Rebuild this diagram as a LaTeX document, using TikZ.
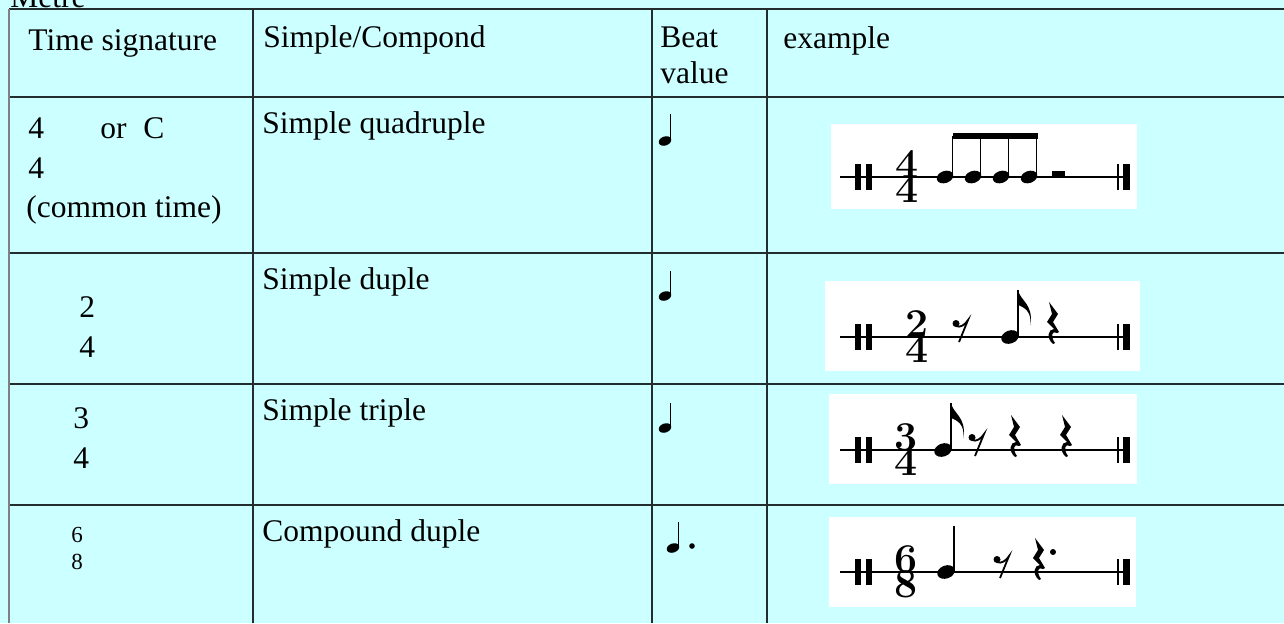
\documentclass[tikz,border=0pt]{standalone}
\usepackage{fontspec}
\setmainfont{Liberation Serif}
\newfontfamily\sigfont{Latin Modern Roman}
\usetikzlibrary{positioning}
\definecolor{colorbg}  {RGB}{204,255,255}
\definecolor{colorrule}{RGB}{35 ,45 ,45 }
\definecolor{colortext}{RGB}{0  ,0  ,0  }

% staff line with the two double bars, #1 = y of the line
\newcommand{\musstaff}[1]{%
  \draw[staff] (840,#1) -- (1130,#1);
  \fill (855,#1-13) rectangle (861,#1+13);
  \fill (866,#1-13) rectangle (872,#1+13);
  \fill (1117.2,#1-13) rectangle (1119.2,#1+13);
  \fill (1123,#1-13) rectangle (1130,#1+13);}
\newcommand{\mushead}[4]{%
  \fill[rotate around={20:(#1,#2)}] (#1,#2) ellipse (#3 and #4);}
\newcommand{\musnote}[5]{%
  \mushead{#1}{#2}{#3}{#4}
  \draw[stemline] (#1+#3-0.8,#2-1) -- (#1+#3-0.8,#5);}
\newcommand{\musflag}[2]{%
  \fill (#1,#2) .. controls (#1+1,#2+10) and (#1+16,#2+14) .. (#1+12,#2+35)
    .. controls (#1+14,#2+21) and (#1+5,#2+17) .. (#1,#2+15) -- cycle;}
\newcommand{\musqrest}[2]{%
  \fill[shift={(#1,#2)}] (2,0) -- (11,12) -- (6,20) -- (12,30) -- (10,31)
    .. controls (5,28) and (3,34) .. (8,41) -- (6,42)
    .. controls (-1,36) and (1,27) .. (7,27) -- (0,20) -- (5,12) -- cycle;}
\newcommand{\muserest}[2]{%
  \begin{scope}[shift={(#1,#2)}]
    \fill (4,3.5) circle (3.5);
    \draw[line width=0.9pt] (4,6) .. controls (8,8) and (13,5) .. (16,0) -- (7,22);
  \end{scope}}

\begin{document}
\begin{tikzpicture}[
    x=0.5pt, y=-0.5pt,
    font=\fontsize{15.75}{18}\selectfont,
    txt/.style={text=colortext,inner sep=0pt,anchor=base west},
    small/.style={txt,font=\fontsize{11.5}{13}\selectfont},
    sig/.style={inner sep=0pt,anchor=base,font=\sigfont\bfseries\fontsize{20.5}{21}\selectfont},
    rule/.style={draw=colorrule,line width=0.9pt},
    staff/.style={line width=0.7pt},
    stemline/.style={line width=0.75pt},
]

    % Background
    \fill[colorbg] (0,0) rectangle (1284,623);
    \useasboundingbox (0,0) rectangle (1284,623);
    \node[txt] (metre) at (10,7) {Metre};

    % Grid
    \foreach \y in {9,97,253,384,505} \draw[rule] (9,\y) -- (1284,\y);
    \draw[rule,draw=gray] (9,9) -- (9,623);
    \foreach \x in {253,652,767} \draw[rule] (\x,9) -- (\x,623);

    % Header
    \node[txt] (hdrsig)   at (28,50)  {Time signature};
    \node[txt] (hdrkind)  at (263,47) {Simple/Compond};
    \node[txt] (hdrbeat)  at (660,47) {Beat};
    \node[txt] (hdrbeatb) at (660,83) {value};
    \node[txt] (hdrex)    at (783,48) {example};

    % Time signatures
    \node[txt] (sigAup)  at (28,138)  {4};
    \node[txt] (sigAor)  at (100,138) {or};
    \node[txt] (sigAc)   at (143,138) {C};
    \node[txt] (sigAlo)  at (28,178)  {4};
    \node[txt] (sigAtxt) at (26,217)  {(common time)};
    \node[txt] (sigBup)  at (79,317)  {2};
    \node[txt] (sigBlo)  at (79,357)  {4};
    \node[txt] (sigCup)  at (73,428)  {3};
    \node[txt] (sigClo)  at (73,468)  {4};
    \node[small] (sigDup) at (71,542) {6};
    \node[small] (sigDlo) at (71,569) {8};

    % Kinds
    \node[txt] (kindA) at (262,133) {Simple quadruple};
    \node[txt] (kindB) at (262,289) {Simple duple};
    \node[txt] (kindC) at (262,420) {Simple triple};
    \node[txt] (kindD) at (262,541) {Compound duple};

    % Beat values
    \musnote{665}{141}{6.5}{4.5}{114}
    \musnote{665}{296}{6.5}{4.5}{271}
    \musnote{665}{428}{6.5}{4.5}{403}
    \musnote{673}{548}{6.5}{4.5}{522}
    \fill (692,546) circle (2.8);

    % Examples
    \fill[white] (831,124) rectangle (1137,209);
    \fill[white] (825,281) rectangle (1140,371);
    \fill[white] (829,394) rectangle (1137,484);
    \fill[white] (829,517) rectangle (1136,607);

    % 4/4
    \musstaff{177}
    \node[sig] (exAup) at (907,177) {4};
    \node[sig] (exAlo) at (907,202) {4};
    \foreach \x in {945,973,1001,1029} \musnote{\x}{177}{8.5}{6}{136};
    \fill (952.5,133) rectangle (1037.5,139);
    \fill (1052,171) rectangle (1065,177);

    % 2/4
    \musstaff{337}
    \node[sig] (exBup) at (917,337) {2};
    \node[sig] (exBlo) at (917,362) {4};
    \muserest{952}{320}
    \musnote{1010}{337}{9}{6.5}{290}
    \musflag{1018.2}{290}
    \musqrest{1047}{302}

    % 3/4
    \musstaff{450}
    \node[sig] (exCup) at (906,450) {3};
    \node[sig] (exClo) at (906,475) {4};
    \musnote{943}{450}{9}{6.5}{403}
    \musflag{951.2}{403}
    \muserest{968}{434}
    \musqrest{1009}{415}
    \musqrest{1060}{415}

    % 6/8
    \musstaff{572}
    \node[sig] (exDup) at (906,572) {6};
    \node[sig] (exDlo) at (906,597) {8};
    \musnote{946}{572}{9}{6.5}{526}
    \muserest{993}{556}
    \musqrest{1033}{538}
    \fill (1053,552) circle (3);

\end{tikzpicture}
\end{document}
